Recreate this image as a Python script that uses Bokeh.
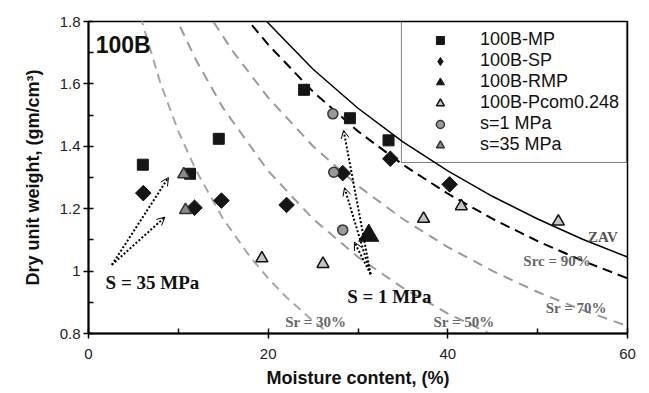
import math
from bokeh.plotting import figure
from bokeh.models import (Label, Legend, LegendItem, Arrow, OpenHead, FixedTicker,
                          CustomJSTickFormatter, ColumnDataSource)
from bokeh.embed import file_html
from bokeh.resources import INLINE

# ---------------- data ----------------
mp_w = [6.05, 11.3, 14.5, 24.0, 29.1, 33.4]
mp_g = [1.341, 1.312, 1.424, 1.581, 1.490, 1.419]
sp_w = [6.1, 11.8, 14.8, 22.05, 28.3, 33.6, 40.2]
sp_g = [1.250, 1.203, 1.226, 1.212, 1.314, 1.360, 1.278]
rmp_w = [31.2]
rmp_g = [1.114]
pcom_w = [19.3, 26.1, 37.3, 41.5, 52.3]
pcom_g = [1.041, 1.023, 1.168, 1.208, 1.159]
s1_w = [27.2, 27.3, 28.3]
s1_g = [1.504, 1.317, 1.132]
s35_w = [10.6, 10.8]
s35_g = [1.310, 1.196]

zav_w = [18, 20, 25, 30, 35, 40, 45, 50, 55, 60, 62]
zav_g = [1.86, 1.795, 1.647, 1.522, 1.414, 1.321, 1.239, 1.167, 1.102, 1.045, 1.023]
src90_w = [16, 18, 20, 25, 30, 35, 40, 45, 50, 55, 60, 62]
src90_g = [1.869, 1.795, 1.726, 1.575, 1.448, 1.341, 1.248, 1.167, 1.096, 1.033, 0.977, 0.956]
sr70_w = [12, 14, 16, 20, 25, 30, 35, 40, 45, 50, 55, 60, 62]
sr70_g = [1.892, 1.795, 1.707, 1.556, 1.4, 1.273, 1.167, 1.077, 1.0, 0.933, 0.875, 0.824, 0.805]
sr50_w = [8, 10, 12, 15, 20, 25, 30, 35, 40, 45, 50]
sr50_g = [1.934, 1.795, 1.675, 1.522, 1.321, 1.167, 1.045, 0.946, 0.864, 0.795, 0.737]
sr30_w = [5, 6, 8, 10, 12, 15, 18, 20, 22, 25, 28]
sr30_g = [1.909, 1.795, 1.603, 1.448, 1.321, 1.167, 1.045, 0.977, 0.917, 0.840, 0.775]

# arrows (start -> end)
a35_w0 = [2.6, 2.6]
a35_g0 = [1.02, 1.02]
a35_w1 = [8.9, 8.5]
a35_g1 = [1.300, 1.173]
a1_w0 = [31.4, 31.4, 31.4]
a1_g0 = [0.99, 0.99, 0.99]
a1_w1 = [28.4, 28.5, 29.6]
a1_g1 = [1.451, 1.267, 1.093]

x_ticks = [0, 20, 40, 60]
x_minor = [10, 30, 50]
y_ticks = [0.8, 1.0, 1.2, 1.4, 1.6, 1.8]
y_minor = [0.9, 1.1, 1.3, 1.5, 1.7]

# ---------------- figure ----------------
p = figure(width=649, height=393, x_range=(0, 60), y_range=(0.8, 1.8),
           output_backend="svg", toolbar_location=None,
           min_border_left=88, min_border_right=22, min_border_top=21, min_border_bottom=60)
p.grid.visible = False
p.outline_line_color = "black"
p.outline_line_width = 1.5
p.background_fill_color = "white"

for ax in (p.xaxis[0], p.yaxis[0]):
    ax.axis_line_width = 2
    ax.major_tick_line_width = 1.5
    ax.minor_tick_line_width = 1.5
    ax.major_tick_in = 5
    ax.major_tick_out = 5
    ax.minor_tick_in = 5
    ax.minor_tick_out = 0
    ax.major_label_text_font = "Liberation Sans"
    ax.major_label_text_font_size = "15px"
    ax.major_label_text_color = "#222222"
    ax.axis_label_text_font = "Liberation Sans"
    ax.axis_label_text_font_style = "bold"
    ax.axis_label_text_font_size = "18px"
    ax.axis_label_text_color = "#111111"
    ax.formatter = CustomJSTickFormatter(code="return String(Math.round(tick*10)/10)")

p.xaxis.ticker = FixedTicker(ticks=x_ticks, minor_ticks=x_minor)
p.yaxis.ticker = FixedTicker(ticks=y_ticks, minor_ticks=y_minor)
p.xaxis.axis_label = "Moisture content, (%)"
p.yaxis.axis_label = "Dry unit weight, (gm/cm³)"
p.xaxis.major_label_standoff = 10
p.yaxis.major_label_standoff = 3
p.xaxis.axis_label_standoff = 6
p.yaxis.axis_label_standoff = 14

# ---------------- curves ----------------
p.line(sr30_w, sr30_g, line_color="#a6a6a6", line_width=2, line_dash="9 6")
p.line(sr50_w, sr50_g, line_color="#9a9a9a", line_width=2, line_dash="10 7")
p.line(sr70_w, sr70_g, line_color="#9a9a9a", line_width=2, line_dash="10 7")
p.line(src90_w, src90_g, line_color="black", line_width=2, line_dash="10 6")
p.line(zav_w, zav_g, line_color="black", line_width=1.5)

# ---------------- arrows ----------------
src35 = ColumnDataSource(dict(x0=a35_w0, y0=a35_g0, x1=a35_w1, y1=a35_g1))
p.add_layout(Arrow(x_start="x0", y_start="y0", x_end="x1", y_end="y1", source=src35,
                   line_dash="2 2", line_width=2, line_color="black",
                   end=OpenHead(size=8, line_width=1, line_color="black")))
src1 = ColumnDataSource(dict(x0=a1_w0, y0=a1_g0, x1=a1_w1, y1=a1_g1))
p.add_layout(Arrow(x_start="x0", y_start="y0", x_end="x1", y_end="y1", source=src1,
                   line_dash="2 2", line_width=2, line_color="black",
                   end=OpenHead(size=8, line_width=1, line_color="black")))

# ---------------- markers ----------------
r_mp = p.scatter(mp_w, mp_g, marker="square", size=11, fill_color="#151515", line_color="#151515")
# diamond-shaped renderer used for the legend (hidden underneath the rotated squares)
r_sp_leg = p.scatter(sp_w, sp_g, marker="diamond", size=14, fill_color="#151515", line_color="#151515")
r_sp = p.scatter(sp_w, sp_g, marker="square", size=11, angle=math.pi / 4,
                 fill_color="#151515", line_color="#151515")
r_rmp = p.scatter(rmp_w, rmp_g, marker="triangle", size=20, fill_color="#151515", line_color="#151515")
r_pcom = p.scatter(pcom_w, pcom_g, marker="triangle", size=12, fill_color="#c4c4c4",
                   line_color="#111111", line_width=1.5)
r_s1 = p.scatter(s1_w, s1_g, marker="circle", size=10, fill_color="#9a9a9a",
                 line_color="#333333", line_width=1.5)
r_s35 = p.scatter(s35_w, s35_g, marker="triangle", size=12, fill_color="#8a8a8a",
                  line_color="#333333", line_width=1.5)

legend = Legend(items=[
    LegendItem(label="100B-MP", renderers=[r_mp]),
    LegendItem(label="100B-SP", renderers=[r_sp_leg]),
    LegendItem(label="100B-RMP", renderers=[r_rmp]),
    LegendItem(label="100B-Pcom0.248", renderers=[r_pcom]),
    LegendItem(label="s=1 MPa", renderers=[r_s1]),
    LegendItem(label="s=35 MPa", renderers=[r_s35]),
], location="top_right", margin=0, padding=7, spacing=0,
    glyph_width=62, glyph_height=20, label_standoff=9,
    label_text_font="Liberation Sans", label_text_font_size="18px", label_text_color="#111111",
    border_line_color="black", border_line_width=1.5, background_fill_alpha=0)
p.add_layout(legend)

# ---------------- texts ----------------
def lab(x, y, t, size, color, font="Liberation Serif"):
    p.add_layout(Label(x=x, y=y, text=t, text_font=font, text_font_style="bold",
                       text_font_size=size, text_color=color,
                       text_align="left", text_baseline="middle"))

lab(0.8, 1.726, "100B", "23px", "#111111", font="Liberation Sans")
lab(1.9, 0.965, "S = 35 MPa", "19px", "#111111")
lab(28.8, 0.920, "S = 1 MPa", "19px", "#111111")
lab(55.6, 1.108, "ZAV", "15px", "#555555")
lab(48.4, 1.031, "Src = 90%", "15px", "#666666")
lab(50.9, 0.882, "Sr = 70%", "15px", "#666666")
lab(38.4, 0.838, "Sr = 50%", "15px", "#666666")
lab(21.9, 0.836, "Sr = 30%", "15px", "#666666")

open("out.html", "w").write(file_html(p, INLINE))
